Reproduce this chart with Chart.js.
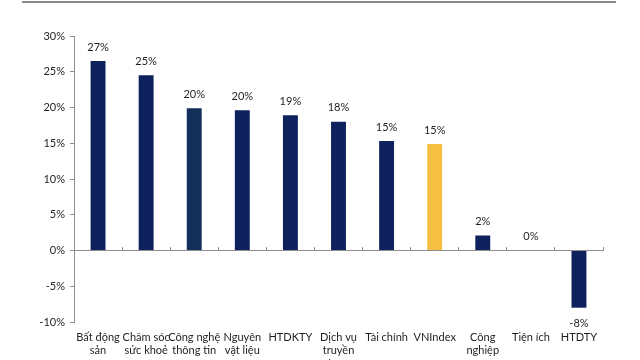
<!DOCTYPE html>
<html>
<head>
<meta charset="utf-8">
<script src="https://cdn.jsdelivr.net/npm/chart.js@4.4.1/dist/chart.umd.min.js"></script>
<style>
  html, body { margin: 0; padding: 0; background: #ffffff; }
  #wrap { position: relative; width: 640px; height: 360px; overflow: hidden; }
  #topRule { position: absolute; left: 22px; top: 1px; width: 594px; height: 2px; background: #8c8c8c; }
</style>
</head>
<body>
<div id="wrap">
  <div id="topRule"></div>
  <canvas id="c" width="640" height="360"></canvas>
</div>
<script>
const categories = [
  ["Bất động", "sản"],
  ["Chăm sóc", "sức khoẻ"],
  ["Công nghệ", "thông tin"],
  ["Nguyên", "vật liệu"],
  "HTDKTY",
  ["Dịch vụ", "truyền", "thông"],
  "Tài chính",
  "VNIndex",
  ["Công", "nghiệp"],
  "Tiện ích",
  "HTDTY"
];
const returns = [26.5, 24.5, 19.9, 19.6, 18.9, 18.0, 15.3, 14.9, 2.1, 0, -8.0];
const barColors = ["#0e215c", "#0e215c", "#142e5a", "#0e215c", "#0e215c", "#0e215c",
                   "#0e215c", "#f6c143", "#0e215c", "#0e215c", "#0e215c"];
const yMin = -10, yMax = 30, yStep = 5;

const FONT = "Lato, 'Open Sans', sans-serif";
const TEXT = "#1f1f1f";
const AXIS = "#8f8f8f";

const valueLabels = {
  id: 'valueLabels',
  afterDatasetsDraw(chart) {
    const ctx = chart.ctx;
    const meta = chart.getDatasetMeta(0);
    ctx.save();
    ctx.font = "11px " + FONT;
    ctx.fillStyle = TEXT;
    ctx.textAlign = "center";
    ctx.textBaseline = "middle";
    meta.data.forEach((el, i) => {
      const v = returns[i];
      const txt = Math.round(v) + "%";
      const y = v < 0 ? el.y + 16 : el.y - 14;
      ctx.fillText(txt, el.x, y);
    });
    ctx.restore();
  }
};

new Chart(document.getElementById('c'), {
  type: 'bar',
  data: {
    labels: categories,
    datasets: [{
      data: returns,
      backgroundColor: barColors,
      borderWidth: 0,
      categoryPercentage: 1.0,
      barPercentage: 0.31
    }]
  },
  options: {
    responsive: false,
    animation: false,
    events: [],
    layout: { padding: { top: 36, right: 37, bottom: 0, left: 0 } },
    plugins: { legend: { display: false }, tooltip: { enabled: false } },
    scales: {
      x: {
        type: 'category',
        position: 'bottom',
        offset: true,
        grid: { display: false, drawTicks: false, offset: true },
        border: { display: false },
        ticks: {
          color: TEXT,
          font: { family: FONT, size: 11, lineHeight: 1.2 },
          padding: 9,
          maxRotation: 0,
          autoSkip: false
        },
        afterFit(scale) { scale.height = 38; }
      },
      x2: {
        type: 'category',
        axis: 'x',
        position: { y: 0 },
        offset: true,
        grid: { display: true, offset: true, drawOnChartArea: false, drawTicks: true, tickLength: -4, color: AXIS, lineWidth: 1 },
        border: { display: true, color: AXIS, width: 1 },
        ticks: { display: false }
      },
      y: {
        min: yMin,
        max: yMax,
        position: 'left',
        grid: { display: true, drawOnChartArea: false, drawTicks: true, tickLength: 4, color: AXIS, lineWidth: 1 },
        border: { display: true, color: AXIS, width: 1 },
        ticks: {
          stepSize: yStep,
          color: TEXT,
          padding: 5,
          font: { family: FONT, size: 11 },
          callback: (v) => v + "%"
        },
        afterFit(scale) { scale.width = 74; }
      }
    }
  },
  plugins: [valueLabels]
});
</script>
</body>
</html>
